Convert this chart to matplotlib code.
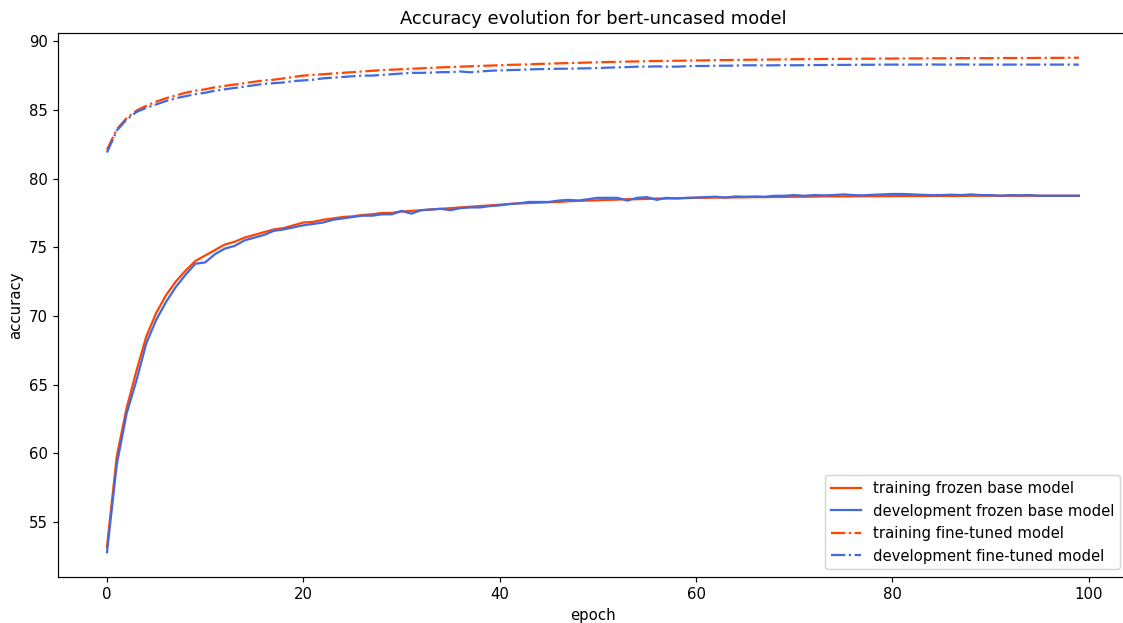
import matplotlib
matplotlib.use("Agg")
import matplotlib.pyplot as plt

epochs = list(range(100))

train_frozen = [
    53.2, 59.8, 63.3, 66.0, 68.5, 70.2, 71.5, 72.5, 73.3, 74.0,
    74.4, 74.8, 75.2, 75.4, 75.7, 75.9, 76.1, 76.3, 76.4, 76.6,
    76.8, 76.85, 77.0, 77.1, 77.2, 77.25, 77.35, 77.4, 77.5, 77.5,
    77.6, 77.65, 77.7, 77.75, 77.8, 77.85, 77.9, 77.95, 78.0, 78.05,
    78.1, 78.15, 78.2, 78.22, 78.25, 78.28, 78.3, 78.35, 78.38, 78.4,
    78.42, 78.45, 78.47, 78.5, 78.5, 78.52, 78.55, 78.55, 78.57, 78.58,
    78.6, 78.6, 78.62, 78.62, 78.63, 78.64, 78.65, 78.65, 78.66, 78.67,
    78.68, 78.68, 78.69, 78.7, 78.7, 78.7, 78.71, 78.71, 78.72, 78.72,
    78.72, 78.73, 78.73, 78.73, 78.74, 78.74, 78.74, 78.74, 78.75, 78.75,
    78.75, 78.75, 78.75, 78.75, 78.75, 78.75, 78.75, 78.75, 78.75, 78.75,
]

dev_frozen = [
    52.8, 59.2, 62.9, 65.3, 68.0, 69.7, 71.0, 72.1, 73.0, 73.8,
    73.9, 74.5, 74.9, 75.1, 75.5, 75.7, 75.9, 76.2, 76.3, 76.45,
    76.6, 76.7, 76.8, 77.0, 77.1, 77.2, 77.3, 77.3, 77.4, 77.4,
    77.65, 77.45, 77.7, 77.75, 77.8, 77.7, 77.85, 77.9, 77.9, 78.0,
    78.05, 78.15, 78.2, 78.3, 78.3, 78.3, 78.4, 78.45, 78.4, 78.5,
    78.6, 78.6, 78.6, 78.4, 78.6, 78.65, 78.45, 78.6, 78.55, 78.6,
    78.62, 78.65, 78.68, 78.62, 78.7, 78.68, 78.7, 78.68, 78.75, 78.75,
    78.8, 78.75, 78.8, 78.78, 78.8, 78.85, 78.8, 78.78, 78.82, 78.85,
    78.88, 78.88, 78.85, 78.82, 78.8, 78.8, 78.83, 78.8, 78.85, 78.8,
    78.8, 78.75, 78.8, 78.78, 78.8, 78.75, 78.75, 78.75, 78.75, 78.75,
]

train_fine = [
    82.1, 83.6, 84.4, 84.95, 85.3, 85.6, 85.85, 86.05, 86.25, 86.4,
    86.5, 86.65, 86.75, 86.85, 86.95, 87.05, 87.15, 87.2, 87.3, 87.4,
    87.5, 87.55, 87.6, 87.65, 87.7, 87.75, 87.8, 87.85, 87.9, 87.93,
    87.96, 88.0, 88.03, 88.06, 88.1, 88.12, 88.15, 88.18, 88.2, 88.23,
    88.25, 88.28, 88.3, 88.32, 88.35, 88.37, 88.39, 88.41, 88.43, 88.45,
    88.47, 88.49, 88.5, 88.52, 88.53, 88.55, 88.56, 88.57, 88.58, 88.59,
    88.6, 88.61, 88.62, 88.63, 88.64, 88.65, 88.66, 88.66, 88.67, 88.68,
    88.69, 88.7, 88.7, 88.71, 88.71, 88.72, 88.72, 88.73, 88.73, 88.74,
    88.74, 88.75, 88.75, 88.75, 88.76, 88.76, 88.76, 88.77, 88.77, 88.77,
    88.77, 88.78, 88.78, 88.78, 88.78, 88.79, 88.79, 88.79, 88.8, 88.8,
]

dev_fine = [
    81.9, 83.5, 84.3, 84.85, 85.15, 85.4, 85.65, 85.85, 86.0, 86.15,
    86.25, 86.4, 86.5, 86.6, 86.7, 86.8, 86.9, 86.95, 87.0, 87.1,
    87.15, 87.2, 87.3, 87.35, 87.4, 87.45, 87.5, 87.5, 87.55, 87.6,
    87.65, 87.7, 87.7, 87.72, 87.75, 87.75, 87.8, 87.74, 87.8, 87.85,
    87.88, 87.9, 87.92, 87.95, 87.97, 87.98, 88.0, 88.0, 88.02, 88.03,
    88.05, 88.08, 88.1, 88.12, 88.15, 88.15, 88.17, 88.15, 88.15, 88.18,
    88.2, 88.2, 88.22, 88.22, 88.23, 88.25, 88.25, 88.24, 88.25, 88.26,
    88.25, 88.26, 88.27, 88.27, 88.28, 88.28, 88.28, 88.29, 88.29, 88.3,
    88.3, 88.3, 88.3, 88.3, 88.31, 88.3, 88.3, 88.31, 88.3, 88.3,
    88.3, 88.3, 88.3, 88.3, 88.3, 88.3, 88.3, 88.3, 88.3, 88.3,
]

# text in the original is a little larger than 100 dpi would give
fig = plt.figure(figsize=(1123 / 107, 623 / 107), dpi=107)
# the right spine sits just past the picture's edge in the original
plt.subplots_adjust(left=0.052, right=1.004, top=0.947, bottom=0.074)

plt.plot(epochs, train_frozen, color="orangered", label="training frozen base model")
plt.plot(epochs, dev_frozen, color="royalblue", label="development frozen base model")
plt.plot(epochs, train_fine, color="orangered", linestyle="-.", label="training fine-tuned model")
plt.plot(epochs, dev_fine, color="royalblue", linestyle="-.", label="development fine-tuned model")

plt.title("Accuracy evolution for bert-uncased model")
plt.ylabel("accuracy")
plt.xlabel("epoch")
plt.legend(loc="lower right")

plt.savefig("out.png", dpi=107)
